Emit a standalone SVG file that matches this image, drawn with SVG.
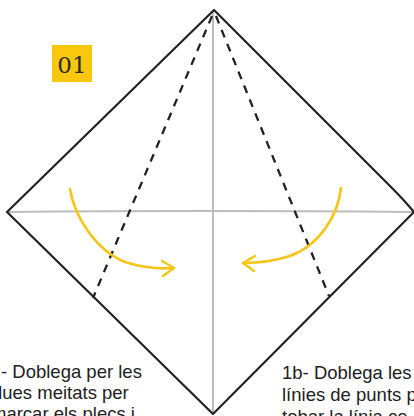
<svg xmlns="http://www.w3.org/2000/svg" width="414" height="416" viewBox="0 0 414 416">
<style>
.edge{fill:none;stroke:#222;stroke-width:2.2;stroke-linejoin:round;stroke-linecap:round}
.dash{fill:none;stroke:#222;stroke-width:2.3;stroke-dasharray:8 7}
.crease{fill:none;stroke:#bdbdbd;stroke-width:2}
.arrow{fill:none;stroke:#f5c518;stroke-width:2.6;stroke-linecap:round;stroke-linejoin:round}
.txt{font-family:"Liberation Sans","Noto Sans",sans-serif;font-size:18.5px;fill:#222}
</style>
<rect width="414" height="416" fill="#fff"/>
<g id="creases">
<line class="crease" x1="213" y1="12" x2="213" y2="412"/>
<path class="crease" d="M8,212 Q200,210 413,212"/>
</g>
<g id="paper">
<path class="edge" d="M214,10 L390,186 Q404,200 414,212 L213,414 L7,212 Z"/>
</g>
<g id="connectors">
<line class="dash" x1="212" y1="16" x2="93" y2="298"/>
<line class="dash" x1="216" y1="16" x2="329" y2="296"/>
<path class="arrow" d="M70,189 C74,215 95,250 125,262 Q150,270 174,268"/>
<path class="arrow" d="M162,261 L174,268 L163,276"/>
<path class="arrow" d="M341,188 C338,215 320,245 290,256 Q268,263 243,263"/>
<path class="arrow" d="M255,256 L243,263 L254,271"/>
</g>
<g id="label">
<rect x="52" y="45" width="40" height="37" fill="#f9c80e"/>
<text x="72" y="73" text-anchor="middle" font-family="DejaVu Serif, serif" font-size="23" fill="#2a2a2a">01</text>
</g>
<g id="text-left">
<text class="txt" x="1" y="378">- Doblega per les</text>
<text class="txt" x="-8" y="399">dues meitats per</text>
<text class="txt" x="-9" y="420">marcar els plecs i</text>
</g>
<g id="text-right">
<text class="txt" x="282" y="379">1b- Doblega les</text>
<text class="txt" x="282" y="401">línies de punts p</text>
<text class="txt" x="282" y="423">tobar la línia ce</text>
</g>
</svg>
